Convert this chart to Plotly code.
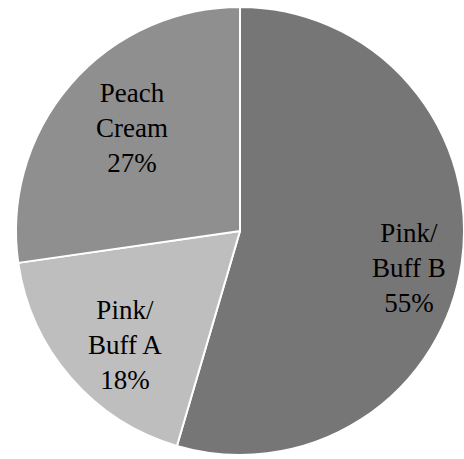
import plotly.graph_objects as go

labels = ["Pink/<br>Buff B", "Pink/<br>Buff A", "Peach<br>Cream"]
values = [6, 2, 3]
colors = ["#767676", "#bebebe", "#8f8f8f"]

W, H = 464, 459
cx, cy, r = 240, 231, 224

# label block centres in pixels (text placement only)
label_px = [(409, 268), (125, 345), (132, 128)]

fig = go.Figure(go.Pie(
    labels=labels,
    values=values,
    sort=False,
    direction="clockwise",
    rotation=0,
    marker=dict(colors=colors, line=dict(color="white", width=2)),
    textinfo="none",
    domain=dict(x=[(cx - r) / W, (cx + r) / W], y=[(H - cy - r) / H, (H - cy + r) / H]),
    showlegend=False,
    hoverinfo="skip",
))

total = sum(values)
for lab, v, (px, py) in zip(labels, values, label_px):
    fig.add_annotation(
        x=px / W, y=1 - py / H, xref="paper", yref="paper",
        text=f"{lab}<br>{round(100 * v / total)}%",
        showarrow=False, xanchor="center", yanchor="middle", align="center",
        font=dict(family="Liberation Serif, DejaVu Serif, serif", size=27, color="black"),
    )

fig.update_layout(
    width=W, height=H,
    margin=dict(l=0, r=0, t=0, b=0),
    paper_bgcolor="white",
)
fig.write_html("out.html", config={"displayModeBar": False},
               post_script="document.body.style.margin='0';")
